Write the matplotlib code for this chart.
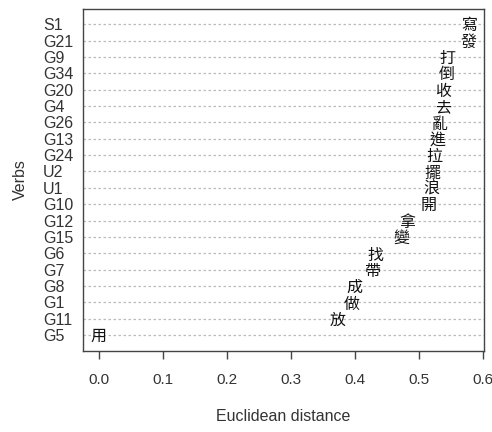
import matplotlib
matplotlib.use('Agg')
import matplotlib.pyplot as plt

plt.rcParams.update({
    'font.family': ['Liberation Sans', 'DejaVu Sans'],
    'font.size': 11.5,
})

# ── Data (top row first) ─────────────────────────────────────────────────────
codes = ['S1', 'G21', 'G9', 'G34', 'G20', 'G4', 'G26', 'G13', 'G24', 'U2',
         'U1', 'G10', 'G12', 'G15', 'G6', 'G7', 'G8', 'G1', 'G11', 'G5']
verbs = ['寫', '發', '打', '倒', '收', '去', '亂', '進', '拉', '擺',
         '浪', '開', '拿', '變', '找', '帶', '成', '做', '放', '用']
dist = [0.579, 0.577, 0.544, 0.543, 0.538, 0.538, 0.533, 0.529, 0.525, 0.522,
        0.520, 0.516, 0.482, 0.473, 0.432, 0.428, 0.400, 0.395, 0.374, 0.0]
xticks = [0.0, 0.1, 0.2, 0.3, 0.4, 0.5, 0.6]

n = len(codes)
ypos = list(range(n, 0, -1))

fig = plt.figure(figsize=(4.92, 4.32), dpi=100)
ax = fig.add_axes([0.169, 0.188, 0.815, 0.792])

for y in ypos:
    ax.axhline(y, color='#bbbbbb', lw=0.9, ls=(0, (2, 2)), zorder=1)

for y, x, v in zip(ypos, dist, verbs):
    ax.text(x, y - 0.1, v, ha='center', va='center', fontsize=11.5,
            family=['Noto Sans CJK TC', 'DejaVu Sans'], color='#111111', zorder=3)

ax.set_xlim(-0.024, 0.602)
ax.set_ylim(0.04, n + 0.95)
ax.set_xticks(xticks)
ax.set_xticklabels([f'{t:.1f}' for t in xticks], color='#333333', fontsize=11)
ax.set_yticks(ypos)
ax.set_yticklabels(codes, ha='left', color='#333333')
ax.tick_params(axis='y', length=0, pad=29)
ax.tick_params(axis='x', length=6, width=1, color='#444444', pad=10)

for s in ax.spines.values():
    s.set_color('#444444')
    s.set_linewidth(1)

ax.set_xlabel('Euclidean distance', color='#333333', labelpad=16)
ax.set_ylabel('Verbs', color='#333333', labelpad=11)

fig.savefig('out.png', dpi=100)
